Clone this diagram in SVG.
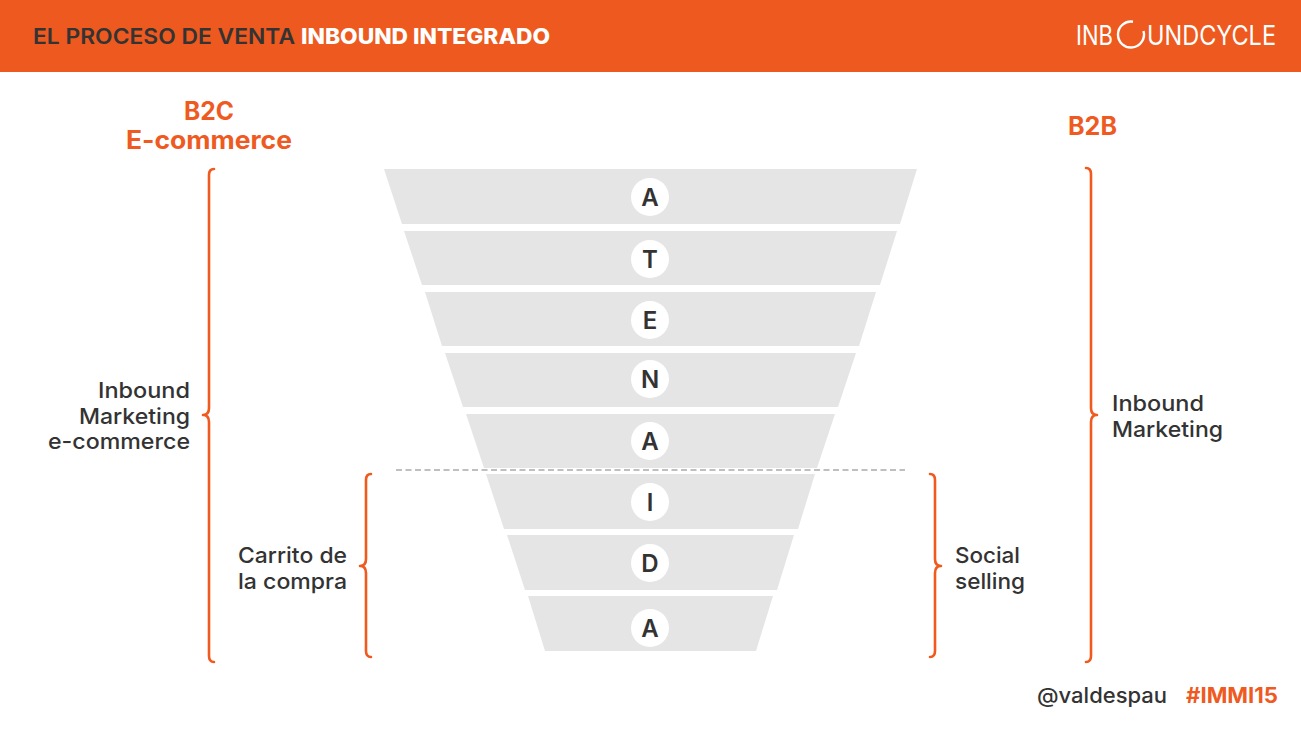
<svg xmlns="http://www.w3.org/2000/svg" width="1301" height="731" viewBox="0 0 1301 731">
<style>
text{font-family:Inter,"Liberation Sans",sans-serif}
.f{fill:#e5e5e5}
.c{fill:#fff}
.l{font-size:24px;font-weight:600;fill:#333;text-anchor:middle}
.t{font-size:22px;font-weight:500;fill:#333}
.o{font-weight:700;fill:#ee5a1f}
.b{fill:none;stroke:#f05a1e;stroke-width:2.6;stroke-linecap:round;stroke-linejoin:round}
</style>
<rect id="header" width="1301" height="72" fill="#ed591e"/>
<text x="33" y="44" font-size="21.5" font-weight="600" fill="#333" textLength="262" lengthAdjust="spacingAndGlyphs">EL PROCESO DE VENTA</text>
<text x="301" y="44" font-size="21.5" font-weight="800" fill="#fff" textLength="249" lengthAdjust="spacingAndGlyphs">INBOUND INTEGRADO</text>
<g id="logo"><text x="1076" y="45" font-size="27" font-weight="400" fill="#fff" textLength="37" lengthAdjust="spacingAndGlyphs">INB</text>
<path d="M1133 21.7A13 13 0 1 0 1143.5 31" fill="none" stroke="#fff" stroke-width="2.4"/>
<text x="1147" y="45" font-size="27" font-weight="400" fill="#fff" textLength="129" lengthAdjust="spacingAndGlyphs">UNDCYCLE</text></g>
<text class="o" x="184" y="120" font-size="25" textLength="50" lengthAdjust="spacingAndGlyphs">B2C</text>
<text class="o" x="126" y="149" font-size="25" textLength="166" lengthAdjust="spacingAndGlyphs">E-commerce</text>
<text class="o" x="1068" y="135" font-size="25" textLength="49" lengthAdjust="spacingAndGlyphs">B2B</text>
<g id="funnel">
<g id="s1"><polygon class="f" points="384,169 917,169 900,224 402,224"/><circle class="c" cx="650" cy="197" r="19"/><text class="l" x="650" y="206">A</text></g>
<g id="s2"><polygon class="f" points="404,231 897,231 880,285 422,285"/><circle class="c" cx="650" cy="259" r="19"/><text class="l" x="650" y="268">T</text></g>
<g id="s3"><polygon class="f" points="425,292 876,292 859,346 442,346"/><circle class="c" cx="650" cy="320" r="19"/><text class="l" x="650" y="329">E</text></g>
<g id="s4"><polygon class="f" points="445,353 856,353 838,407 463,407"/><circle class="c" cx="650" cy="379" r="19"/><text class="l" x="650" y="388">N</text></g>
<g id="s5"><polygon class="f" points="466,414 835,414 817,468 484,468"/><circle class="c" cx="650" cy="441" r="19"/><text class="l" x="650" y="450">A</text></g>
<g id="s6"><polygon class="f" points="486,474 815,474 798,529 504,529"/><circle class="c" cx="650" cy="502" r="19"/><text class="l" x="650" y="511">I</text></g>
<g id="s7"><polygon class="f" points="507,535 794,535 777,590 525,590"/><circle class="c" cx="650" cy="563" r="19"/><text class="l" x="650" y="572">D</text></g>
<g id="s8"><polygon class="f" points="528,596 773,596 756,651 545,651"/><circle class="c" cx="650" cy="628" r="19"/><text class="l" x="650" y="637">A</text></g>
</g>
<line x1="396" y1="470" x2="905" y2="470" stroke="#aaa" stroke-width="1.3" stroke-dasharray="6 3.5"/>
<g id="braces">
<path class="b" d="M214 169Q209 169 209 175V408Q209 415 203 415Q209 415 209 422V656Q209 662 214 662"/>
<path class="b" d="M371 474Q366 474 366 480V559Q366 566 360 566Q366 566 366 573V651Q366 657 371 657"/>
<path class="b" d="M1086 168Q1091 168 1091 174V408Q1091 415 1097 415Q1091 415 1091 422V656Q1091 662 1086 662"/>
<path class="b" d="M930 474Q935 474 935 480V559Q935 566 941 566Q935 566 935 573V651Q935 657 930 657"/>
</g>
<g id="labels">
<text class="t" x="98" y="398" textLength="92" lengthAdjust="spacingAndGlyphs">Inbound</text>
<text class="t" x="79" y="424" textLength="111" lengthAdjust="spacingAndGlyphs">Marketing</text>
<text class="t" x="48" y="449" textLength="142" lengthAdjust="spacingAndGlyphs">e-commerce</text>
<text class="t" x="238" y="563" textLength="109" lengthAdjust="spacingAndGlyphs">Carrito de</text>
<text class="t" x="238" y="589" textLength="109" lengthAdjust="spacingAndGlyphs">la compra</text>
<text class="t" x="1112" y="411" textLength="92" lengthAdjust="spacingAndGlyphs">Inbound</text>
<text class="t" x="1112" y="437" textLength="111" lengthAdjust="spacingAndGlyphs">Marketing</text>
<text class="t" x="955" y="563" textLength="65" lengthAdjust="spacingAndGlyphs">Social</text>
<text class="t" x="955" y="589" textLength="70" lengthAdjust="spacingAndGlyphs">selling</text>
</g>
<text x="1037" y="703" font-size="21" font-weight="500" fill="#333" textLength="130" lengthAdjust="spacingAndGlyphs">@valdespau</text>
<text class="o" x="1186" y="703" font-size="21" textLength="92" lengthAdjust="spacingAndGlyphs">#IMMI15</text>
</svg>
